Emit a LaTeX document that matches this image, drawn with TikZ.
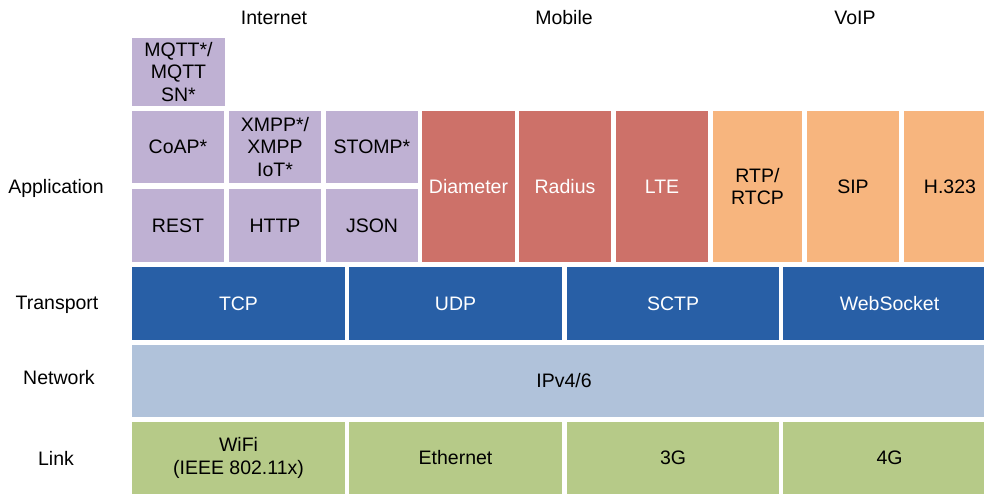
\documentclass[tikz,border=0pt]{standalone}
\usepackage{fontspec}
\setmainfont{Liberation Sans}
\definecolor{cpurple}{HTML}{BFB1D3}
\definecolor{cred}{HTML}{CD7169}
\definecolor{corange}{HTML}{F7B57E}
\definecolor{cblue}{HTML}{285FA6}
\definecolor{clblue}{HTML}{B0C2DA}
\definecolor{cgreen}{HTML}{B6CA88}
\tikzset{
  box/.style={rectangle, inner sep=0pt, outer sep=0pt, align=center, font=\fontsize{19.5}{22.5}\selectfont},
  pbox/.style={box, fill=cpurple, text=black},
  rbox/.style={box, fill=cred, text=white},
  obox/.style={box, fill=corange, text=black},
  bbox/.style={box, fill=cblue, text=white},
  lbbox/.style={box, fill=clblue, text=black},
  gbox/.style={box, fill=cgreen, text=black},
  lbl/.style={inner sep=0pt, text height=14pt, text depth=0pt, font=\fontsize{19.5}{22.5}\selectfont, text=black},
}
\newcommand\bx[7]{\node[#6, minimum width={(#4-#2)*1pt}, minimum height={(#5-#3)*1pt}] (#1) at ({(#2+#4)/2},{(#3+#5)/2}) {#7};}
\begin{document}
\begin{tikzpicture}[x=1pt,y=-1pt]
\clip (0,0) rectangle (984,494);
\fill[white] (0,0) rectangle (984,494);
% headers
\node[lbl] (hint) at (274,18) {Internet};
\node[lbl] (hmob) at (564,18) {Mobile};
\node[lbl] (hvoip) at (855,18) {VoIP};
% layer labels
\node[lbl] (lapp) at (56,187) {Application};
\node[lbl] (ltra) at (57,302) {Transport};
\node[lbl] (lnet) at (59,377) {Network};
\node[lbl] (llnk) at (56,458) {Link};
% application
\bx{mqtt}{132}{38}{225}{106}{pbox}{MQTT*/\\MQTT\\SN*}
\bx{coap}{132}{111}{224}{183}{pbox}{CoAP*}
\bx{xmpp}{229}{111}{321}{183}{pbox}{XMPP*/\\XMPP\\IoT*}
\bx{stomp}{326}{111}{418}{183}{pbox}{STOMP*}
\bx{rest}{132}{189}{224}{262}{pbox}{REST}
\bx{http}{229}{189}{321}{262}{pbox}{HTTP}
\bx{json}{326}{189}{418}{262}{pbox}{JSON}
\bx{diam}{422}{111}{515}{262}{rbox}{Diameter}
\bx{rad}{519}{111}{611}{262}{rbox}{Radius}
\bx{lte}{616}{111}{708}{262}{rbox}{LTE}
\bx{rtp}{713}{111}{802}{262}{obox}{RTP/\\RTCP}
\bx{sip}{807}{111}{899}{262}{obox}{SIP}
\bx{h323}{904}{111}{996}{262}{obox}{H.323}
% transport
\bx{tcp}{132}{267}{345}{340}{bbox}{TCP}
\bx{udp}{349}{267}{562}{340}{bbox}{UDP}
\bx{sctp}{567}{267}{779}{340}{bbox}{SCTP}
\bx{ws}{783}{267}{996}{340}{bbox}{WebSocket}
% network
\bx{ip}{132}{345}{996}{417}{lbbox}{IPv4/6}
% link
\bx{wifi}{132}{422}{345}{494}{gbox}{WiFi\\(IEEE 802.11x)}
\bx{eth}{349}{422}{562}{494}{gbox}{Ethernet}
\bx{g3}{567}{422}{779}{494}{gbox}{3G}
\bx{g4}{783}{422}{996}{494}{gbox}{4G}
\end{tikzpicture}
\end{document}
